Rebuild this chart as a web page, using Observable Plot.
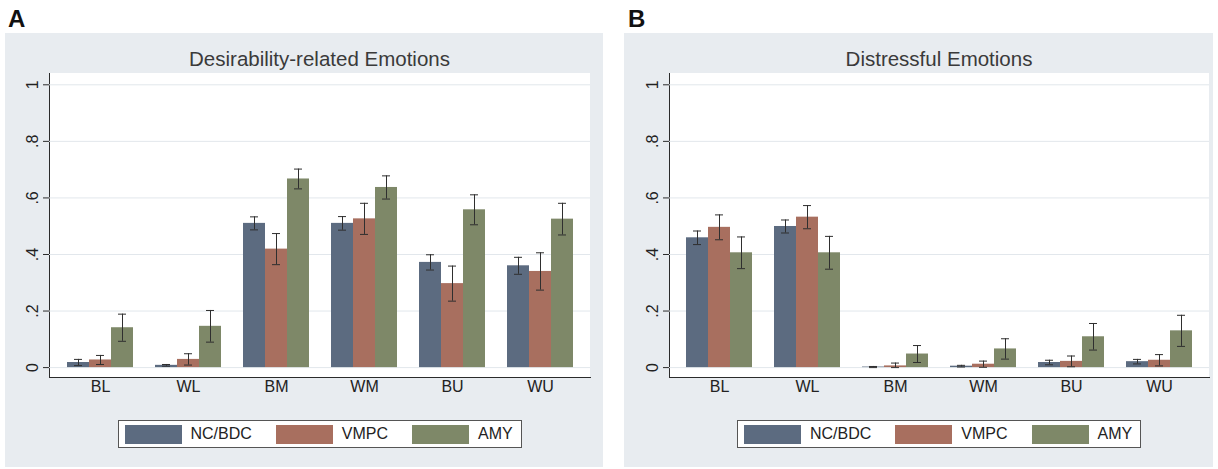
<!DOCTYPE html>
<html>
<head>
<meta charset="utf-8">
<script src="https://cdn.jsdelivr.net/npm/d3@7"></script>
<script src="https://cdn.jsdelivr.net/npm/@observablehq/plot@0.6"></script>
<style>
  html, body { margin: 0; padding: 0; background: #ffffff; }
  body { width: 1218px; height: 469px; position: relative; overflow: hidden;
         font-family: "Liberation Sans", Arial, Helvetica, sans-serif; }
  .letter { position: absolute; top: 5px; font-size: 24px; font-weight: bold; color: #111; }
  .panel { position: absolute; top: 33px; height: 434px; background: #e8ecf0; }
  .plotbg { position: absolute; background: #ffffff; }
  .panel svg { position: absolute; left: 0; top: 0; font-size: 16px !important; }
  .panel svg text { font-size: 16px; fill: #222; }
  .title { position: absolute; top: 14px; text-align: center; font-size: 20.5px; color: #3a3a3a; }
  .legend { position: absolute; top: 387px; height: 28px; background: #fff; border: 1px solid #555;
            display: flex; align-items: center; box-sizing: border-box; padding: 0 8px 0 6px; }
  .legend .sw { width: 57px; height: 19px; }
  .legend .lab { margin-left: 9px; margin-right: 24px; font-size: 16px; color: #222; }
  .legend .lab:last-child { margin-right: 0; }
</style>
</head>
<body>
<div class="letter" style="left:8px">A</div>
<div class="letter" style="left:628px">B</div>
<div id="panelA" class="panel" style="left:5px; width:598px;"></div>
<div id="panelB" class="panel" style="left:624px; width:589px;"></div>
<script>
// ---- data ----
const categories = ["BL", "WL", "BM", "WM", "BU", "WU"];
const series = ["NC/BDC", "VMPC", "AMY"];
const colors = ["#5c6b80", "#a86f5f", "#7e8868"];
const yTicks = [0, 0.2, 0.4, 0.6, 0.8, 1];

// Panel A: Desirability-related Emotions
const titleA = "Desirability-related Emotions";
const meanA_NC   = [0.018, 0.008, 0.510, 0.510, 0.372, 0.360];
const meanA_VMPC = [0.027, 0.029, 0.419, 0.526, 0.297, 0.340];
const meanA_AMY  = [0.141, 0.146, 0.667, 0.637, 0.558, 0.525];
const errA_NC    = [0.011, 0.003, 0.023, 0.024, 0.027, 0.030];
const errA_VMPC  = [0.016, 0.020, 0.055, 0.055, 0.062, 0.066];
const errA_AMY   = [0.048, 0.056, 0.035, 0.041, 0.053, 0.056];

// Panel B: Distressful Emotions
const titleB = "Distressful Emotions";
const meanB_NC   = [0.459, 0.499, 0.002, 0.005, 0.018, 0.021];
const meanB_VMPC = [0.496, 0.532, 0.006, 0.012, 0.022, 0.026];
const meanB_AMY  = [0.406, 0.406, 0.048, 0.066, 0.109, 0.130];
const errB_NC    = [0.024, 0.023, 0.002, 0.003, 0.008, 0.008];
const errB_VMPC  = [0.044, 0.041, 0.010, 0.011, 0.019, 0.020];
const errB_AMY   = [0.056, 0.058, 0.030, 0.036, 0.047, 0.055];

// ---- helpers ----
const yDomain = [-0.035, 1.04];
const key = (c, s) => c + "|" + s;
// band domain: three bars per category with a one-bar spacer between groups
const keys = categories.flatMap((c, i) => [...(i ? ["gap" + i] : []), ...series.map(s => key(c, s))]);
const tickKeys = categories.map(c => key(c, series[1]));
const yFmt = d => d === 0 ? "0" : d === 1 ? "1" : String(Math.round(d * 10) / 10).replace(/^0/, "");

function rowsFrom(means, errs) {
  const rows = [];
  categories.forEach((c, i) => {
    series.forEach((s, j) => {
      const v = means[j][i], e = errs[j][i];
      rows.push({key: key(c, s), category: c, series: s, value: v, lo: Math.max(0, v - e), hi: v + e});
    });
  });
  return rows;
}

function drawPanel(el, title, rows, geom) {
  const {width, height, ml, mr, mt, mb} = geom;
  const bg = document.createElement("div");
  bg.className = "plotbg";
  Object.assign(bg.style, {left: ml + "px", top: mt + "px", width: (width - ml - mr) + "px", height: (height - mt - mb) + "px"});
  el.appendChild(bg);

  const chart = Plot.plot({
    width, height, marginLeft: ml, marginRight: mr, marginTop: mt, marginBottom: mb,
    style: {background: "transparent", fontFamily: "Liberation Sans, Arial, sans-serif", fontSize: "16px", color: "#2b2b2b", overflow: "visible"},
    x: {type: "band", domain: keys, paddingInner: 0, paddingOuter: 0.43, ticks: tickKeys,
        tickFormat: k => k.split("|")[0], tickSize: 0, tickPadding: 3, line: true, label: null},
    y: {domain: yDomain, ticks: yTicks, tickFormat: yFmt, tickRotate: -90, tickSize: 6, tickPadding: 6, line: true, label: null},
    color: {domain: series, range: colors},
    marks: [
      Plot.gridY(yTicks, {stroke: "#e2e7ec", strokeOpacity: 1}),
      Plot.barY(rows, {x: "key", y: "value", fill: "series"}),
      Plot.ruleX(rows, {x: "key", y1: "lo", y2: "hi", stroke: "#2f2f2f", strokeWidth: 1}),
      Plot.tickY(rows, {x: "key", y: "lo", stroke: "#2f2f2f", insetLeft: 7, insetRight: 7}),
      Plot.tickY(rows, {x: "key", y: "hi", stroke: "#2f2f2f", insetLeft: 7, insetRight: 7})
    ]
  });
  el.appendChild(chart);

  const t = document.createElement("div");
  t.className = "title";
  t.textContent = title;
  Object.assign(t.style, {left: ml + "px", width: (width - ml - mr) + "px"});
  el.appendChild(t);

  const lg = document.createElement("div");
  lg.className = "legend";
  series.forEach((s, i) => {
    const sw = document.createElement("span");
    sw.className = "sw"; sw.style.background = colors[i];
    const lab = document.createElement("span");
    lab.className = "lab"; lab.textContent = s;
    lg.appendChild(sw); lg.appendChild(lab);
  });
  el.appendChild(lg);
  const cx = ml + (width - ml - mr) / 2;
  lg.style.left = (cx - lg.offsetWidth / 2) + "px";
}

drawPanel(document.getElementById("panelA"), titleA,
  rowsFrom([meanA_NC, meanA_VMPC, meanA_AMY], [errA_NC, errA_VMPC, errA_AMY]),
  {width: 598, height: 370, ml: 44, mr: 13, mt: 40, mb: 26});
drawPanel(document.getElementById("panelB"), titleB,
  rowsFrom([meanB_NC, meanB_VMPC, meanB_AMY], [errB_NC, errB_VMPC, errB_AMY]),
  {width: 589, height: 370, ml: 45, mr: 4, mt: 40, mb: 26});
</script>
</body>
</html>
